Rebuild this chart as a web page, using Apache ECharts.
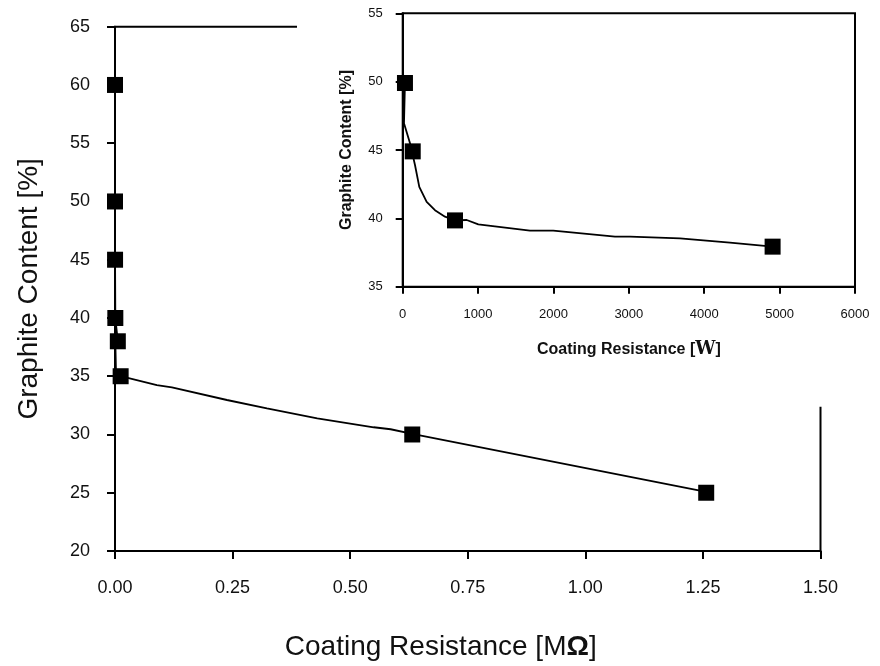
<!DOCTYPE html>
<html>
<head>
<meta charset="utf-8">
<script src="https://cdn.jsdelivr.net/npm/echarts@6/dist/echarts.min.js"></script>
<style>html,body{margin:0;padding:0;background:#fff;}#c{width:880px;height:666px;}</style>
</head>
<body>
<div id="c"></div>
<script>
// Main chart: coating resistance in MOhm vs graphite content (%)
const mainMarkerX = [0.0000, 0.00003, 0.00013, 0.0007, 0.006, 0.012, 0.632, 1.257];
const mainMarkerY = [60, 50, 45, 40, 38, 35, 30, 25];
const mainLineX = [0.0000, 0.00003, 0.00013, 0.0007, 0.006, 0.001, 0.002, 0.012, 0.089, 0.121, 0.238, 0.323, 0.43, 0.55, 0.586, 0.632, 1.257];
const mainLineY = [60, 50, 45, 40, 38, 37.4, 35.5, 35, 34.24, 34.04, 32.96, 32.25, 31.39, 30.62, 30.45, 30.05, 25.07];
const mainXTicks = [0, 0.25, 0.5, 0.75, 1.0, 1.25, 1.5];
const mainYTicks = [20, 25, 30, 35, 40, 45, 50, 55, 60, 65];

// Inset: coating resistance in Ohm vs graphite content (%)
const insetMarkerX = [30, 133, 694, 4907];
const insetMarkerY = [49.9, 44.9, 39.85, 37.93];
const insetLineX = [30, 17, 97, 163, 220, 318, 428, 561, 694, 849, 1003, 1688, 1997, 2816, 3015, 3678, 4341, 4907];
const insetLineY = [49.9, 46.96, 45.5, 43.9, 42.3, 41.2, 40.6, 40.12, 39.85, 39.88, 39.56, 39.1, 39.1, 38.66, 38.66, 38.54, 38.22, 37.93];
const insetXTicks = [0, 1000, 2000, 3000, 4000, 5000, 6000];
const insetYTicks = [35, 40, 45, 50, 55];

const zip = (a, b) => a.map((v, i) => [v, b[i]]);
const FONT = 'Liberation Sans';
const step = t => t[1] - t[0];

const chart = echarts.init(document.getElementById('c'), null, {renderer: 'canvas'});
chart.setOption({
  animation: false,
  backgroundColor: '#fff',
  graphic: [{
    type: 'rect', z: 5,
    shape: {x: 297, y: 0, width: 583, height: 406.7},
    style: {fill: '#fff'}
  }],
  grid: [
    {left: 115, top: 26.7, right: 59.5, bottom: 112.7, show: true, borderColor: '#000', borderWidth: 2, backgroundColor: 'transparent', z: 0},
    {left: 402.7, top: 13.3, right: 25, bottom: 379.3, show: true, borderColor: '#000', borderWidth: 2, backgroundColor: 'transparent', z: 10}
  ],
  xAxis: [
    {
      gridIndex: 0, type: 'value', min: mainXTicks[0], max: mainXTicks[mainXTicks.length - 1], interval: step(mainXTicks),
      splitLine: {show: false},
      axisLine: {lineStyle: {color: '#000', width: 2}},
      axisTick: {inside: false, length: 8, lineStyle: {color: '#000', width: 2}},
      axisLabel: {margin: 28, color: '#111', fontSize: 18, fontFamily: FONT, formatter: v => v.toFixed(2)},
      name: 'Coating Resistance [M{o|Ω}]', nameLocation: 'middle', nameGap: 82,
      nameTextStyle: {fontSize: 28, fontFamily: FONT, color: '#111', padding: [0, 54, 0, 0],
        rich: {o: {fontSize: 28, fontFamily: FONT, fontWeight: 'bold', color: '#111'}}}
    },
    {
      gridIndex: 1, type: 'value', min: insetXTicks[0], max: insetXTicks[insetXTicks.length - 1], interval: step(insetXTicks), z: 10,
      splitLine: {show: false},
      axisLine: {lineStyle: {color: '#000', width: 2}},
      axisTick: {inside: false, length: 7, lineStyle: {color: '#000', width: 2}},
      axisLabel: {margin: 21, color: '#111', fontSize: 13, fontFamily: FONT, formatter: v => String(v)},
      name: 'Coating Resistance [{w|W}]', nameLocation: 'middle', nameGap: 54,
      nameTextStyle: {fontSize: 16, fontWeight: 'bold', fontFamily: FONT, color: '#111',
        rich: {w: {fontSize: 18, fontWeight: 'bold', fontFamily: 'DejaVu Serif', color: '#111'}}}
    }
  ],
  yAxis: [
    {
      gridIndex: 0, type: 'value', min: mainYTicks[0], max: mainYTicks[mainYTicks.length - 1], interval: step(mainYTicks),
      splitLine: {show: false},
      axisLine: {lineStyle: {color: '#000', width: 2}},
      axisTick: {inside: false, length: 8, lineStyle: {color: '#000', width: 2}},
      axisLabel: {margin: 25, color: '#111', fontSize: 18, fontFamily: FONT},
      name: 'Graphite Content [%]', nameLocation: 'middle', nameGap: 72,
      nameTextStyle: {fontSize: 28, fontFamily: FONT, color: '#111'}
    },
    {
      gridIndex: 1, type: 'value', min: insetYTicks[0], max: insetYTicks[insetYTicks.length - 1], interval: step(insetYTicks), z: 10,
      splitLine: {show: false},
      axisLine: {lineStyle: {color: '#000', width: 2}},
      axisTick: {inside: false, length: 7, lineStyle: {color: '#000', width: 2}},
      axisLabel: {margin: 20, color: '#111', fontSize: 13, fontFamily: FONT},
      name: 'Graphite Content [%]', nameLocation: 'middle', nameGap: 48,
      nameTextStyle: {fontSize: 16, fontWeight: 'bold', fontFamily: FONT, color: '#111'}
    }
  ],
  series: [
    {type: 'line', xAxisIndex: 0, yAxisIndex: 0, z: 12, data: zip(mainLineX, mainLineY), showSymbol: false, symbol: 'none',
      lineStyle: {color: '#000', width: 1.8}, clip: false},
    {type: 'scatter', xAxisIndex: 0, yAxisIndex: 0, z: 13, data: zip(mainMarkerX, mainMarkerY), symbol: 'rect', symbolSize: 16,
      itemStyle: {color: '#000', opacity: 1}, clip: false},
    {type: 'line', xAxisIndex: 1, yAxisIndex: 1, z: 12, data: zip(insetLineX, insetLineY), showSymbol: false, symbol: 'none',
      lineStyle: {color: '#000', width: 1.8}, clip: false},
    {type: 'scatter', xAxisIndex: 1, yAxisIndex: 1, z: 13, data: zip(insetMarkerX, insetMarkerY), symbol: 'rect', symbolSize: 16,
      itemStyle: {color: '#000', opacity: 1}, clip: false}
  ]
});
</script>
</body>
</html>
